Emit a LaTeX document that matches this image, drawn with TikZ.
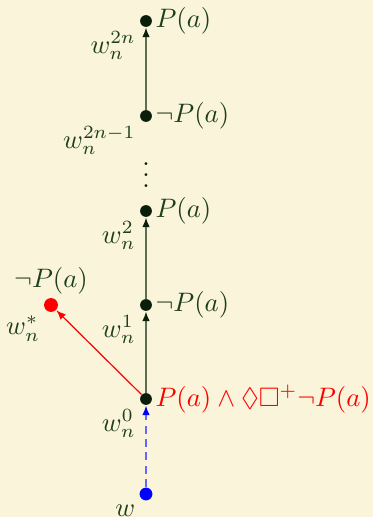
\documentclass[tikz,border=0pt]{standalone}
\usepackage{amsmath, amssymb}
\usepackage{xcolor}
\usetikzlibrary{arrows.meta, positioning}
\definecolor{kripkebg}{RGB}{250,244,218}
\definecolor{worldgreen}{RGB}{30,62,30}
\definecolor{dotgreen}{RGB}{10,30,10}
\definecolor{edgegreen}{RGB}{90,112,80}

\begin{document}
\begin{tikzpicture}[x=0.3745pt, y=-0.3745pt,
    world/.style={circle, fill=dotgreen, inner sep=0pt, minimum size=4.4pt},
    wname/.style={text=worldgreen, inner sep=2pt},
    wfact/.style={text=worldgreen, inner sep=1pt},
    succ/.style={edgegreen, line width=0.6pt,
                 -{Latex[length=3.6pt, width=2.8pt, color=dotgreen]}}]
    \fill[kripkebg] (0,0) rectangle (373,517);
    \useasboundingbox (0,0) rectangle (373,517);
    % the chain of worlds
    \node[world] (top) at (146,21) {};
    \node[world] (pre) at (146,116) {};
    \node[text=dotgreen] (dots) at (146,167) {$\vdots$};
    \node[world] (w2) at (146,211) {};
    \node[world] (w1) at (146,305) {};
    \node[world] (w0) at (146,399) {};
    \node[circle, fill=blue, inner sep=0pt, minimum size=4.8pt] (w) at (146,494) {};
    \node[circle, fill=red, inner sep=0pt, minimum size=5.2pt] (ws) at (51,305) {};
    % names
    \node[wname, below left=0pt of top] (ntop) {$w_n^{2n}$};
    \node[wname, below left=0pt of pre] (npre) {$w_n^{2n-1}$};
    \node[wname, below left=0pt of w2] (nw2) {$w_n^{2}$};
    \node[wname, below left=0pt of w1] (nw1) {$w_n^{1}$};
    \node[wname, below left=0pt of w0] (nw0) {$w_n^{0}$};
    \node[wname, below left=0pt of w] (nw) {$w$};
    \node[wname, below left=0pt of ws] (nws) {$w_n^{*}$};
    % facts
    \node[wfact, right=0pt of top] (ftop) {$P(a)$};
    \node[wfact, right=0pt of pre] (fpre) {$\neg P(a)$};
    \node[wfact, right=0pt of w2] (fw2) {$P(a)$};
    \node[wfact, right=0pt of w1] (fw1) {$\neg P(a)$};
    \node[wfact, text=red, right=0pt of w0] (fw0) {$P(a)\wedge\Diamond\Box^{+}\neg P(a)$};
    \node[wfact, above=0pt of ws] (fws) {$\neg P(a)$};
    % accessibility
    \draw[succ] (pre) -- (top);
    \draw[succ] (w1) -- (w2);
    \draw[succ] (w0) -- (w1);
    \draw[red, line width=0.45pt, -{Latex[length=3.6pt, width=2.8pt]}] (w0) -- (ws);
    \draw[blue!60, line width=0.6pt, dash pattern=on 3pt off 2pt,
          -{Latex[length=3.6pt, width=2.8pt, color=blue]}] (w) -- (w0);
\end{tikzpicture}
\end{document}
